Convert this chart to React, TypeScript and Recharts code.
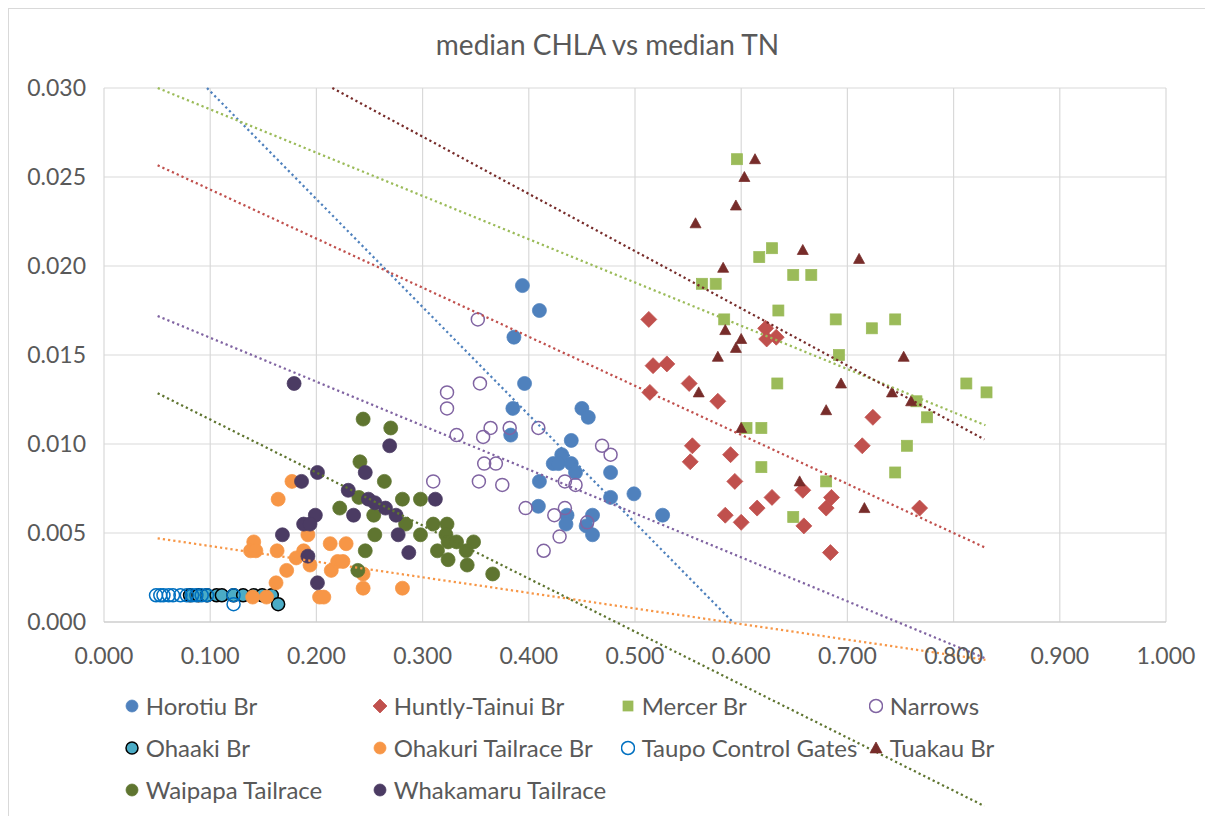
import React from 'react';
import { ScatterChart, Scatter, XAxis, YAxis, CartesianGrid } from 'recharts';

type Pt = [number, number];

const xTicks = [0, 0.1, 0.2, 0.3, 0.4, 0.5, 0.6, 0.7, 0.8, 0.9, 1.0];
const yTicks = [0, 0.005, 0.01, 0.015, 0.02, 0.025, 0.03];

const horotiu: Pt[] = [
  [0.394, 0.0189], [0.410, 0.0175], [0.386, 0.0160], [0.396, 0.0134], [0.385, 0.0120],
  [0.383, 0.0105], [0.450, 0.0120], [0.456, 0.0115], [0.440, 0.0102], [0.431, 0.0094],
  [0.423, 0.0089], [0.428, 0.0089], [0.440, 0.0089], [0.444, 0.0084], [0.477, 0.0084],
  [0.410, 0.0079], [0.477, 0.0070], [0.499, 0.0072], [0.409, 0.0065], [0.436, 0.0060],
  [0.460, 0.0060], [0.435, 0.0055], [0.454, 0.0054], [0.460, 0.0049], [0.526, 0.0060],
];

const huntly: Pt[] = [
  [0.513, 0.0170], [0.517, 0.0144], [0.530, 0.0145], [0.551, 0.0134], [0.514, 0.0129],
  [0.578, 0.0124], [0.623, 0.0165], [0.624, 0.0159], [0.633, 0.0160], [0.554, 0.0099],
  [0.552, 0.0090], [0.590, 0.0094], [0.594, 0.0079], [0.629, 0.0070], [0.615, 0.0064],
  [0.585, 0.0060], [0.600, 0.0056], [0.658, 0.0074], [0.685, 0.0070], [0.680, 0.0064],
  [0.659, 0.0054], [0.684, 0.0039], [0.724, 0.0115], [0.714, 0.0099], [0.768, 0.0064],
];

const mercer: Pt[] = [
  [0.596, 0.0260], [0.617, 0.0205], [0.629, 0.0210], [0.649, 0.0195], [0.666, 0.0195],
  [0.563, 0.0190], [0.576, 0.0190], [0.635, 0.0175], [0.584, 0.0170], [0.689, 0.0170],
  [0.723, 0.0165], [0.745, 0.0170], [0.692, 0.0150], [0.634, 0.0134], [0.605, 0.0109],
  [0.619, 0.0109], [0.619, 0.0087], [0.680, 0.0079], [0.649, 0.0059], [0.765, 0.0124],
  [0.775, 0.0115], [0.756, 0.0099], [0.745, 0.0084], [0.812, 0.0134], [0.831, 0.0129],
];

const narrows: Pt[] = [
  [0.352, 0.0170], [0.323, 0.0129], [0.354, 0.0134], [0.323, 0.0120], [0.332, 0.0105],
  [0.364, 0.0109], [0.357, 0.0104], [0.382, 0.0109], [0.409, 0.0109], [0.358, 0.0089],
  [0.369, 0.0089], [0.310, 0.0079], [0.353, 0.0079], [0.375, 0.0077], [0.397, 0.0064],
  [0.424, 0.0060], [0.434, 0.0064], [0.434, 0.0079], [0.444, 0.0077], [0.469, 0.0099],
  [0.477, 0.0094], [0.429, 0.0048], [0.414, 0.0040], [0.455, 0.0056],
];

const ohaaki: Pt[] = [
  [0.081, 0.0015], [0.089, 0.0015], [0.097, 0.0015], [0.106, 0.0015], [0.111, 0.0015],
  [0.122, 0.0015], [0.131, 0.0015], [0.141, 0.0015], [0.149, 0.0015], [0.158, 0.0015],
  [0.164, 0.0010],
];

const ohakuri: Pt[] = [
  [0.177, 0.0079], [0.164, 0.0069], [0.141, 0.0045], [0.138, 0.0040], [0.143, 0.0040],
  [0.163, 0.0040], [0.188, 0.0040], [0.192, 0.0049], [0.213, 0.0044], [0.228, 0.0044],
  [0.181, 0.0036], [0.194, 0.0032], [0.172, 0.0029], [0.214, 0.0029], [0.220, 0.0034],
  [0.225, 0.0034], [0.244, 0.0027], [0.162, 0.0022], [0.244, 0.0019], [0.203, 0.0014],
  [0.207, 0.0014], [0.140, 0.0014], [0.153, 0.0014], [0.281, 0.0019],
];

const taupo: Pt[] = [
  [0.049, 0.0015], [0.053, 0.0015], [0.056, 0.0015], [0.061, 0.0015], [0.065, 0.0015],
  [0.072, 0.0015], [0.078, 0.0015], [0.083, 0.0015], [0.087, 0.0015], [0.092, 0.0015],
  [0.097, 0.0015], [0.122, 0.0015], [0.122, 0.0010],
];

const tuakau: Pt[] = [
  [0.613, 0.0260], [0.603, 0.0250], [0.595, 0.0234], [0.557, 0.0224], [0.658, 0.0209],
  [0.711, 0.0204], [0.583, 0.0199], [0.585, 0.0164], [0.600, 0.0159], [0.595, 0.0154],
  [0.578, 0.0149], [0.753, 0.0149], [0.560, 0.0129], [0.600, 0.0109], [0.694, 0.0134],
  [0.680, 0.0119], [0.742, 0.0129], [0.760, 0.0124], [0.655, 0.0079], [0.716, 0.0064],
];

const waipapa: Pt[] = [
  [0.244, 0.0114], [0.270, 0.0109], [0.241, 0.0090], [0.264, 0.0079], [0.240, 0.0070],
  [0.222, 0.0064], [0.281, 0.0069], [0.298, 0.0069], [0.254, 0.0060], [0.284, 0.0055],
  [0.298, 0.0049], [0.255, 0.0049], [0.310, 0.0055], [0.323, 0.0055], [0.322, 0.0049],
  [0.324, 0.0045], [0.332, 0.0045], [0.348, 0.0045], [0.341, 0.0040], [0.314, 0.0040],
  [0.324, 0.0035], [0.342, 0.0032], [0.366, 0.0027], [0.246, 0.0040], [0.239, 0.0029],
];

const whakamaru: Pt[] = [
  [0.179, 0.0134], [0.201, 0.0084], [0.186, 0.0079], [0.246, 0.0084], [0.230, 0.0074],
  [0.249, 0.0069], [0.255, 0.0067], [0.235, 0.0060], [0.199, 0.0060], [0.188, 0.0055],
  [0.194, 0.0055], [0.168, 0.0049], [0.192, 0.0037], [0.201, 0.0022], [0.269, 0.0099],
  [0.265, 0.0064], [0.275, 0.0060], [0.312, 0.0069], [0.277, 0.0049], [0.287, 0.0039],
];

// linear trendline end points as drawn in the original
const trendHorotiu: Pt[] = [[0.097, 0.0300], [0.592, 0.0]];
const trendHuntly: Pt[] = [[0.0505, 0.02566], [0.829, 0.0042]];
const trendMercer: Pt[] = [[0.0506, 0.0300], [0.830, 0.01105]];
const trendNarrows: Pt[] = [[0.0505, 0.01719], [0.829, -0.00202]];
const trendOhakuri: Pt[] = [[0.0505, 0.0047], [0.830, -0.00213]];
const trendTuakau: Pt[] = [[0.215, 0.0300], [0.829, 0.01026]];
const trendWaipapa: Pt[] = [[0.0505, 0.01285], [0.829, -0.01034]];

const toPts = (arr: Pt[]) => arr.map(([x, y]) => ({ x, y }));

type Kind = 'circle' | 'diamond' | 'square' | 'triangle' | 'ring';

const drawMarker = (kind: Kind, fill: string, stroke: string, cx: number, cy: number, s: number) => {
  switch (kind) {
    case 'diamond':
      return <path d={`M${cx},${cy - s}L${cx + s},${cy}L${cx},${cy + s}L${cx - s},${cy}Z`} fill={fill} stroke={stroke} strokeWidth={0.75} />;
    case 'square':
      return <rect x={cx - s} y={cy - s} width={2 * s} height={2 * s} fill={fill} stroke={stroke} strokeWidth={0.75} />;
    case 'triangle':
      return <path d={`M${cx},${cy - s}L${cx + s},${cy + s * 0.82}L${cx - s},${cy + s * 0.82}Z`} fill={fill} stroke={stroke} strokeWidth={0.75} />;
    case 'ring':
      return <circle cx={cx} cy={cy} r={s} fill="none" stroke={stroke} strokeWidth={1.5} />;
    default:
      return <circle cx={cx} cy={cy} r={s} fill={fill} stroke={stroke} strokeWidth={stroke === fill ? 0.75 : 1.5} />;
  }
};

const series = [
  { name: 'Horotiu Br', data: horotiu, kind: 'circle' as Kind, fill: '#4F81BD', stroke: '#4F81BD', size: 7 },
  { name: 'Huntly-Tainui Br', data: huntly, kind: 'diamond' as Kind, fill: '#C0504D', stroke: '#C0504D', size: 8 },
  { name: 'Mercer Br', data: mercer, kind: 'square' as Kind, fill: '#9BBB59', stroke: '#9BBB59', size: 5.5 },
  { name: 'Narrows', data: narrows, kind: 'ring' as Kind, fill: 'none', stroke: '#8064A2', size: 6.5 },
  { name: 'Ohaaki Br', data: ohaaki, kind: 'circle' as Kind, fill: '#4BACC6', stroke: '#000000', size: 6.5 },
  { name: 'Ohakuri Tailrace Br', data: ohakuri, kind: 'circle' as Kind, fill: '#F79646', stroke: '#F79646', size: 7 },
  { name: 'Taupo Control Gates', data: taupo, kind: 'ring' as Kind, fill: 'none', stroke: '#0070C0', size: 6.5 },
  { name: 'Tuakau Br', data: tuakau, kind: 'triangle' as Kind, fill: '#772C2A', stroke: '#772C2A', size: 5.5 },
  { name: 'Waipapa Tailrace', data: waipapa, kind: 'circle' as Kind, fill: '#5F7530', stroke: '#5F7530', size: 7 },
  { name: 'Whakamaru Tailrace', data: whakamaru, kind: 'circle' as Kind, fill: '#4B3B63', stroke: '#4B3B63', size: 7 },
];

const trends = [
  { data: trendHorotiu, color: '#4F81BD' },
  { data: trendHuntly, color: '#C0504D' },
  { data: trendMercer, color: '#9BBB59' },
  { data: trendNarrows, color: '#8064A2' },
  { data: trendOhakuri, color: '#F79646' },
  { data: trendTuakau, color: '#772C2A' },
  { data: trendWaipapa, color: '#5F7530' },
];

const legendSize: Record<Kind, number> = { circle: 6, diamond: 7, square: 5, triangle: 6, ring: 6.5 };

export default function App() {
  const textColor = '#595959';
  return (
    <div style={{ position: 'relative', width: 1197, height: 820, border: '1px solid #d9d9d9', background: '#fff', fontFamily: 'Lato, sans-serif' }}>
      <style>{'.trend { clip-path: none !important; }'}</style>
      <div style={{ position: 'absolute', top: 19, left: 0, width: '100%', textAlign: 'center', fontSize: 28, lineHeight: '32px', color: textColor }}>
        median CHLA vs median TN
      </div>

      <ScatterChart width={1197} height={820} margin={{ top: 79, right: 40, bottom: 147, left: 0 }}>
        <CartesianGrid stroke="#d9d9d9" strokeWidth={1.2} />
        <XAxis
          type="number"
          dataKey="x"
          domain={[0, 1]}
          ticks={xTicks}
          interval={0}
          height={60}
          tickSize={0}
          tickMargin={26}
          tickLine={false}
          axisLine={{ stroke: '#c8c8c8', strokeWidth: 1.2 }}
          tick={{ fill: textColor, fontSize: 23, fontFamily: 'Lato' }}
          tickFormatter={(v: number) => v.toFixed(3)}
        />
        <YAxis
          type="number"
          dataKey="y"
          domain={[0, 0.03]}
          allowDataOverflow
          ticks={yTicks}
          interval={0}
          width={95}
          tickSize={0}
          tickMargin={18}
          tickLine={false}
          axisLine={false}
          tick={{ fill: textColor, fontSize: 23, fontFamily: 'Lato' }}
          tickFormatter={(v: number) => v.toFixed(3)}
        />
        {series.map((s) => (
          <Scatter
            key={s.name}
            name={s.name}
            data={toPts(s.data)}
            isAnimationActive={false}
            shape={(p: any) => drawMarker(s.kind, s.fill, s.stroke, p.cx, p.cy, s.size)}
          />
        ))}
        {trends.map((t, i) => (
          <Scatter
            key={`trend-${i}`}
            className="trend"
            data={toPts(t.data)}
            isAnimationActive={false}
            legendType="none"
            line={{ stroke: t.color, strokeWidth: 2.25, strokeDasharray: '2.25 3' }}
            shape={() => <g />}
          />
        ))}
      </ScatterChart>

      <div
        style={{
          position: 'absolute',
          top: 675.7,
          left: 115.7,
          display: 'grid',
          gridTemplateColumns: 'repeat(4, 248px)',
          gridAutoRows: '42px',
          color: textColor,
          fontSize: 24,
        }}
      >
        {series.map((s) => (
          <div key={s.name} style={{ display: 'flex', alignItems: 'center', whiteSpace: 'nowrap', lineHeight: '42px' }}>
            <svg width={14} height={16} style={{ flex: 'none' }}>
              {drawMarker(s.kind, s.fill, s.stroke, 7, 8, legendSize[s.kind])}
            </svg>
            <span style={{ marginLeft: 7 }}>{s.name}</span>
          </div>
        ))}
      </div>
    </div>
  );
}
